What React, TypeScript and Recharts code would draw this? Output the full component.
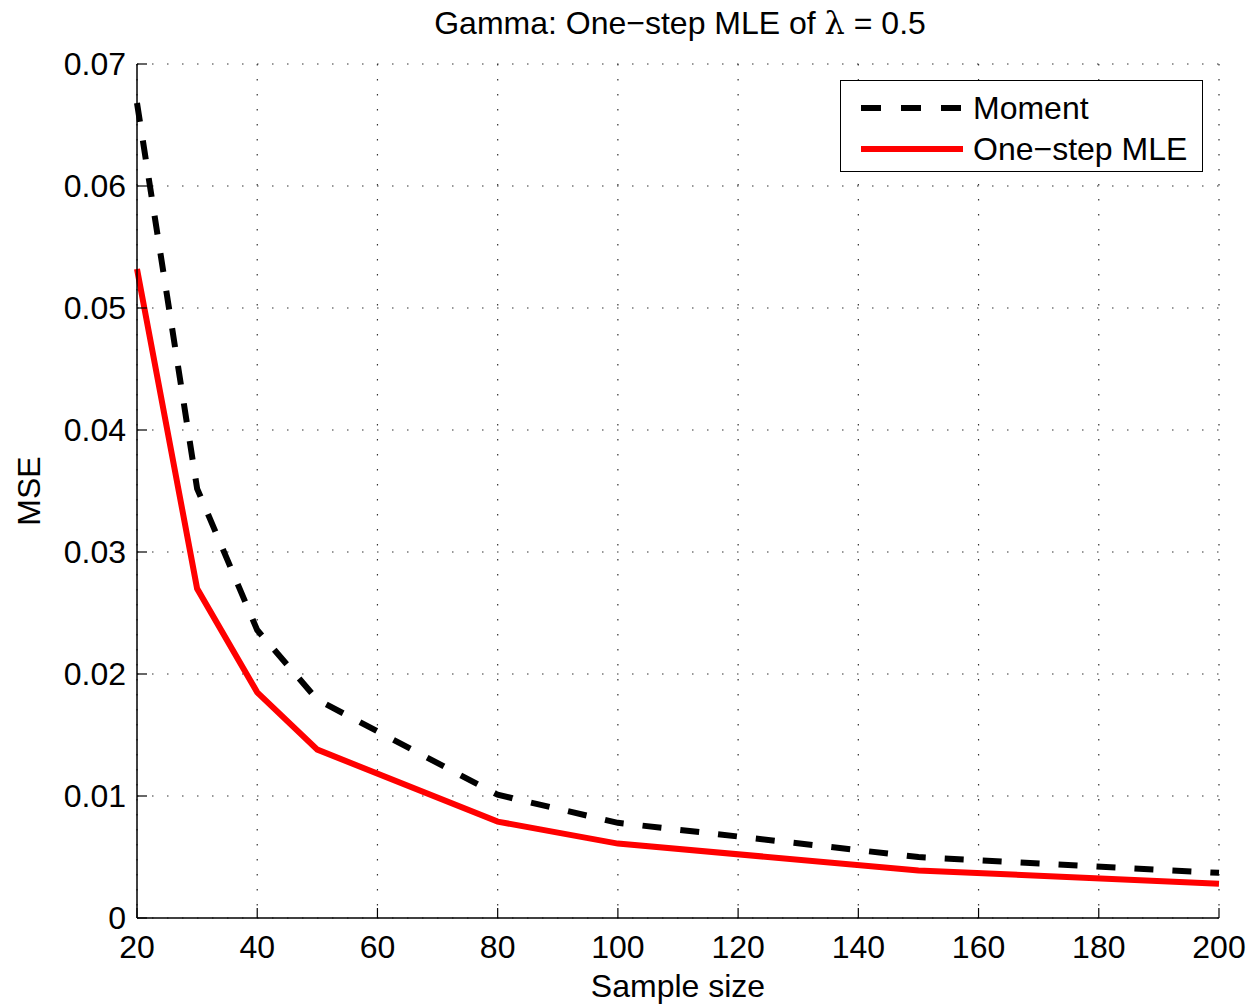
import { LineChart, Line, XAxis, YAxis, CartesianGrid, Legend } from 'recharts'

// sample sizes and MSE values
const sampleSizes = [20, 30, 40, 50, 80, 100, 150, 200]
const momentMse = [0.0668, 0.0352, 0.0236, 0.0179, 0.0101, 0.0078, 0.005, 0.0037]
const oneStepMse = [0.0532, 0.027, 0.0185, 0.0138, 0.0079, 0.0061, 0.0039, 0.0028]

const xTicks = [20, 40, 60, 80, 100, 120, 140, 160, 180, 200]
const yTicks = [0, 0.01, 0.02, 0.03, 0.04, 0.05, 0.06, 0.07]
const yTickLabels = ['0', '0.01', '0.02', '0.03', '0.04', '0.05', '0.06', '0.07']

const seriesNames = ['Moment', 'One\u2212step MLE']
const seriesColors = ['#000000', '#ff0000']
const seriesDash = ['19 19', undefined]

const FONT = '"Liberation Sans", Arial, Helvetica, sans-serif'
const FS = 32
const TICK_LEN = 10

const data = sampleSizes.map((n, i) => ({ n, moment: momentMse[i], oneStep: oneStepMse[i] }))

// eslint-disable-next-line @typescript-eslint/no-explicit-any
const BottomTick = (props: any) => {
  const { x, y, payload } = props
  return (
    <g>
      <line x1={x} x2={x} y1={y} y2={y - TICK_LEN} stroke="#000" strokeWidth={1.2} />
      <text x={x} y={y + 40} textAnchor="middle" fontSize={FS} fontFamily={FONT} fill="#000">
        {payload.value}
      </text>
    </g>
  )
}

// eslint-disable-next-line @typescript-eslint/no-explicit-any
const TopTick = (props: any) => {
  const { x, y } = props
  return <line x1={x} x2={x} y1={y} y2={y + TICK_LEN} stroke="#000" strokeWidth={1.2} />
}

// eslint-disable-next-line @typescript-eslint/no-explicit-any
const LeftTick = (props: any) => {
  const { x, y, index } = props
  return (
    <g>
      <line x1={x} x2={x + TICK_LEN} y1={y} y2={y} stroke="#000" strokeWidth={1.2} />
      <text
        x={x - 11}
        y={y}
        textAnchor="end"
        dominantBaseline="central"
        fontSize={FS}
        fontFamily={FONT}
        fill="#000"
      >
        {yTickLabels[index]}
      </text>
    </g>
  )
}

// eslint-disable-next-line @typescript-eslint/no-explicit-any
const RightTick = (props: any) => {
  const { x, y } = props
  return <line x1={x} x2={x - TICK_LEN} y1={y} y2={y} stroke="#000" strokeWidth={1.2} />
}

const LegendBox = () => (
  <div
    style={{
      width: 363,
      height: 92,
      border: '1.5px solid #000',
      background: '#fff',
      boxSizing: 'border-box',
      fontFamily: FONT,
      fontSize: FS,
      color: '#000',
    }}
  >
    {seriesNames.map((name, i) => (
      <div key={name} style={{ display: 'flex', alignItems: 'center', height: 41, marginTop: i === 0 ? 6 : 0 }}>
        <svg width={132} height={10} style={{ flex: 'none' }}>
          <line
            x1={20}
            x2={122}
            y1={5}
            y2={5}
            stroke={seriesColors[i]}
            strokeWidth={6}
            strokeDasharray={seriesDash[i] === undefined ? undefined : '20 20'}
          />
        </svg>
        <span style={{ lineHeight: 1 }}>{name}</span>
      </div>
    ))}
  </div>
)

export default function App() {
  return (
    <div style={{ position: 'absolute', left: 0, top: 0, width: 1255, height: 1008, background: '#fff' }}>
      <div
        style={{
          position: 'absolute',
          left: 105,
          top: 7,
          width: 1150,
          textAlign: 'center',
          fontFamily: FONT,
          fontSize: FS,
          lineHeight: '32px',
          color: '#000',
          zIndex: 1,
        }}
      >
        Gamma: One{'\u2212'}step MLE of{' '}
        <span style={{ fontFamily: '"DejaVu Serif", "Liberation Serif", serif' }}>{'\u03bb'}</span> = 0.5
      </div>
      <LineChart width={1255} height={1008} data={data} margin={{ top: 64, right: 36, bottom: 0, left: 0 }}>
        <CartesianGrid stroke="#333" strokeWidth={1.2} strokeDasharray="1.5 13.5" xAxisId="bottom" yAxisId="left" />
        <XAxis
          xAxisId="bottom"
          dataKey="n"
          type="number"
          domain={[20, 200]}
          ticks={xTicks}
          height={90}
          tickSize={0}
          tickMargin={0}
          tick={BottomTick}
          axisLine={{ stroke: '#000', strokeWidth: 1.5 }}
          tickLine={false}
          interval={0}
          label={{
            // eslint-disable-next-line @typescript-eslint/no-explicit-any
            content: (p: any) => {
              const vb = p.viewBox ?? { x: 137, y: 918, width: 1082, height: 90 }
              return (
                <text x={vb.x + vb.width / 2} y={vb.y + 79} textAnchor="middle" fontSize={FS} fontFamily={FONT} fill="#000">
                  Sample size
                </text>
              )
            },
          }}
        />
        <XAxis
          xAxisId="top"
          dataKey="n"
          type="number"
          orientation="top"
          domain={[20, 200]}
          ticks={xTicks}
          height={0}
          tickSize={0}
          tickMargin={0}
          tick={TopTick}
          axisLine={{ stroke: '#000', strokeWidth: 1.5 }}
          tickLine={false}
          interval={0}
        />
        <YAxis
          yAxisId="left"
          type="number"
          domain={[0, 0.07]}
          ticks={yTicks}
          width={137}
          tickSize={0}
          tickMargin={0}
          tick={LeftTick}
          axisLine={{ stroke: '#000', strokeWidth: 1.5 }}
          tickLine={false}
          interval={0}
          label={{
            // eslint-disable-next-line @typescript-eslint/no-explicit-any
            content: (p: any) => {
              const vb = p.viewBox ?? { x: 0, y: 64, width: 137, height: 854 }
              const cx = vb.x + 29
              const cy = vb.y + vb.height / 2
              return (
                <text
                  x={cx}
                  y={cy}
                  transform={`rotate(-90 ${cx} ${cy})`}
                  textAnchor="middle"
                  dominantBaseline="central"
                  fontSize={FS}
                  fontFamily={FONT}
                  fill="#000"
                >
                  MSE
                </text>
              )
            },
          }}
        />
        <YAxis
          yAxisId="right"
          orientation="right"
          type="number"
          domain={[0, 0.07]}
          ticks={yTicks}
          width={0}
          tickSize={0}
          tickMargin={0}
          tick={RightTick}
          axisLine={{ stroke: '#000', strokeWidth: 1.5 }}
          tickLine={false}
          interval={0}
        />
        <Line
          xAxisId="bottom"
          yAxisId="left"
          type="linear"
          dataKey="moment"
          name={seriesNames[0]}
          stroke={seriesColors[0]}
          strokeWidth={6}
          strokeDasharray={seriesDash[0]}
          dot={false}
          activeDot={false}
          isAnimationActive={false}
        />
        <Line
          xAxisId="bottom"
          yAxisId="left"
          type="linear"
          dataKey="oneStep"
          name={seriesNames[1]}
          stroke={seriesColors[1]}
          strokeWidth={6}
          dot={false}
          activeDot={false}
          isAnimationActive={false}
        />
        <Legend
          layout="horizontal"
          verticalAlign="middle"
          align="center"
          content={LegendBox}
          wrapperStyle={{ position: 'absolute', left: 840, top: 80, width: 363, height: 92 }}
        />
      </LineChart>
    </div>
  )
}
